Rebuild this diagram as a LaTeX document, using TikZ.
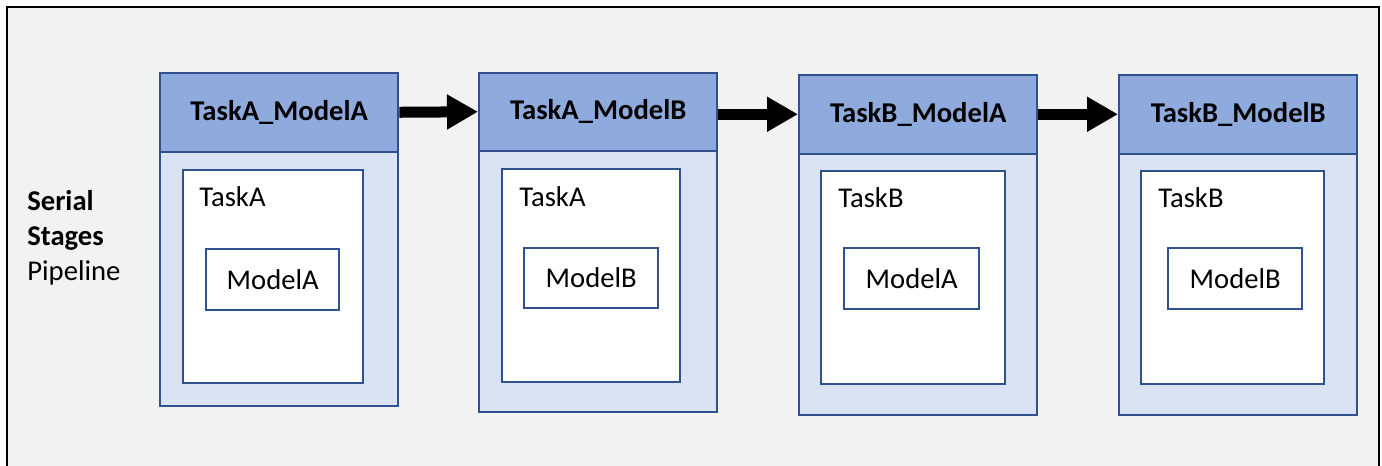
\documentclass[tikz,border=0pt]{standalone}
\usepackage{fontspec}
\setmainfont{Carlito}
\usetikzlibrary{arrows.meta}

\definecolor{framegray}{HTML}{F2F2F2}
\definecolor{headblue}{HTML}{8FAADC}
\definecolor{bodyblue}{HTML}{DAE3F3}
\definecolor{edgeblue}{HTML}{2F528F}
\def\px{0.02cm}

\begin{document}
\begin{tikzpicture}[x=\px, y=\px,
  stagebox/.style={draw=edgeblue, line width=1.4pt, fill=bodyblue, anchor=south west, inner sep=0pt},
  headbox/.style={draw=edgeblue, line width=1.4pt, fill=headblue, anchor=north west, inner sep=0pt,
    minimum width=238*\px, font=\fontsize{16.3}{19.5}\selectfont\bfseries},
  taskbox/.style={draw=edgeblue, line width=1.4pt, fill=white, anchor=south west, inner sep=0pt},
  modelbox/.style={draw=edgeblue, line width=1.4pt, fill=white, anchor=south west, inner sep=0pt,
    font=\fontsize{16.3}{19.5}\selectfont},
  tasktext/.style={anchor=west, inner sep=0pt, font=\fontsize{16.3}{19.5}\selectfont},
  flow/.style={line width=11*\px, -{Triangle[length=0.62cm, width=0.66cm]}}
]
% Page size and outer frame
\useasboundingbox (0,0) rectangle (1382,466);
\clip (0,0) rectangle (1382,466);
\draw[line width=1.5pt, fill=framegray] (7,-20) rectangle (1379,459);

% Pipeline title
\node[anchor=west, align=left, inner sep=0pt, font=\fontsize{16.3}{19.9}\selectfont] (title) at (27,228)
  {\textbf{Serial}\\\textbf{Stages}\\Pipeline};

% Stage 1
\node[stagebox, minimum width=238*\px, minimum height=333*\px] (stage1) at (159,59) {};
\node[headbox, minimum height=79*\px] (head1) at (stage1.north west) {TaskA\_ModelA};
\node[taskbox, minimum width=180*\px, minimum height=213*\px] (task1) at (182,82) {};
\node[modelbox, minimum width=133*\px, minimum height=61*\px] (model1) at (205,155) {ModelA};
\node[tasktext] (name1) at (199,269) {TaskA};

% Stage 2
\node[stagebox, minimum width=238*\px, minimum height=339*\px] (stage2) at (478,53) {};
\node[headbox, minimum height=78*\px] (head2) at (stage2.north west) {TaskA\_ModelB};
\node[taskbox, minimum width=178*\px, minimum height=213*\px] (task2) at (501,83) {};
\node[modelbox, minimum width=134*\px, minimum height=60*\px] (model2) at (523,157) {ModelB};
\node[tasktext] (name2) at (519,269) {TaskA};

% Stage 3
\node[stagebox, minimum width=238*\px, minimum height=340*\px] (stage3) at (798,50) {};
\node[headbox, minimum height=79*\px] (head3) at (stage3.north west) {TaskB\_ModelA};
\node[taskbox, minimum width=184*\px, minimum height=213*\px] (task3) at (820,81) {};
\node[modelbox, minimum width=135*\px, minimum height=61*\px] (model3) at (843,156) {ModelA};
\node[tasktext] (name3) at (838,268) {TaskB};

% Stage 4
\node[stagebox, minimum width=238*\px, minimum height=340*\px] (stage4) at (1118,50) {};
\node[headbox, minimum height=79*\px] (head4) at (stage4.north west) {TaskB\_ModelB};
\node[taskbox, minimum width=183*\px, minimum height=213*\px] (task4) at (1140,81) {};
\node[modelbox, minimum width=134*\px, minimum height=61*\px] (model4) at (1167,156) {ModelB};
\node[tasktext] (name4) at (1158,268) {TaskB};

% Arrows between stages
\draw[flow] (head1.east) -- (head2.west);
\draw[flow] (head2.east |- head3.west) -- (head3.west);
\draw[flow] (head3.east) -- (head4.west);

\end{tikzpicture}
\end{document}
